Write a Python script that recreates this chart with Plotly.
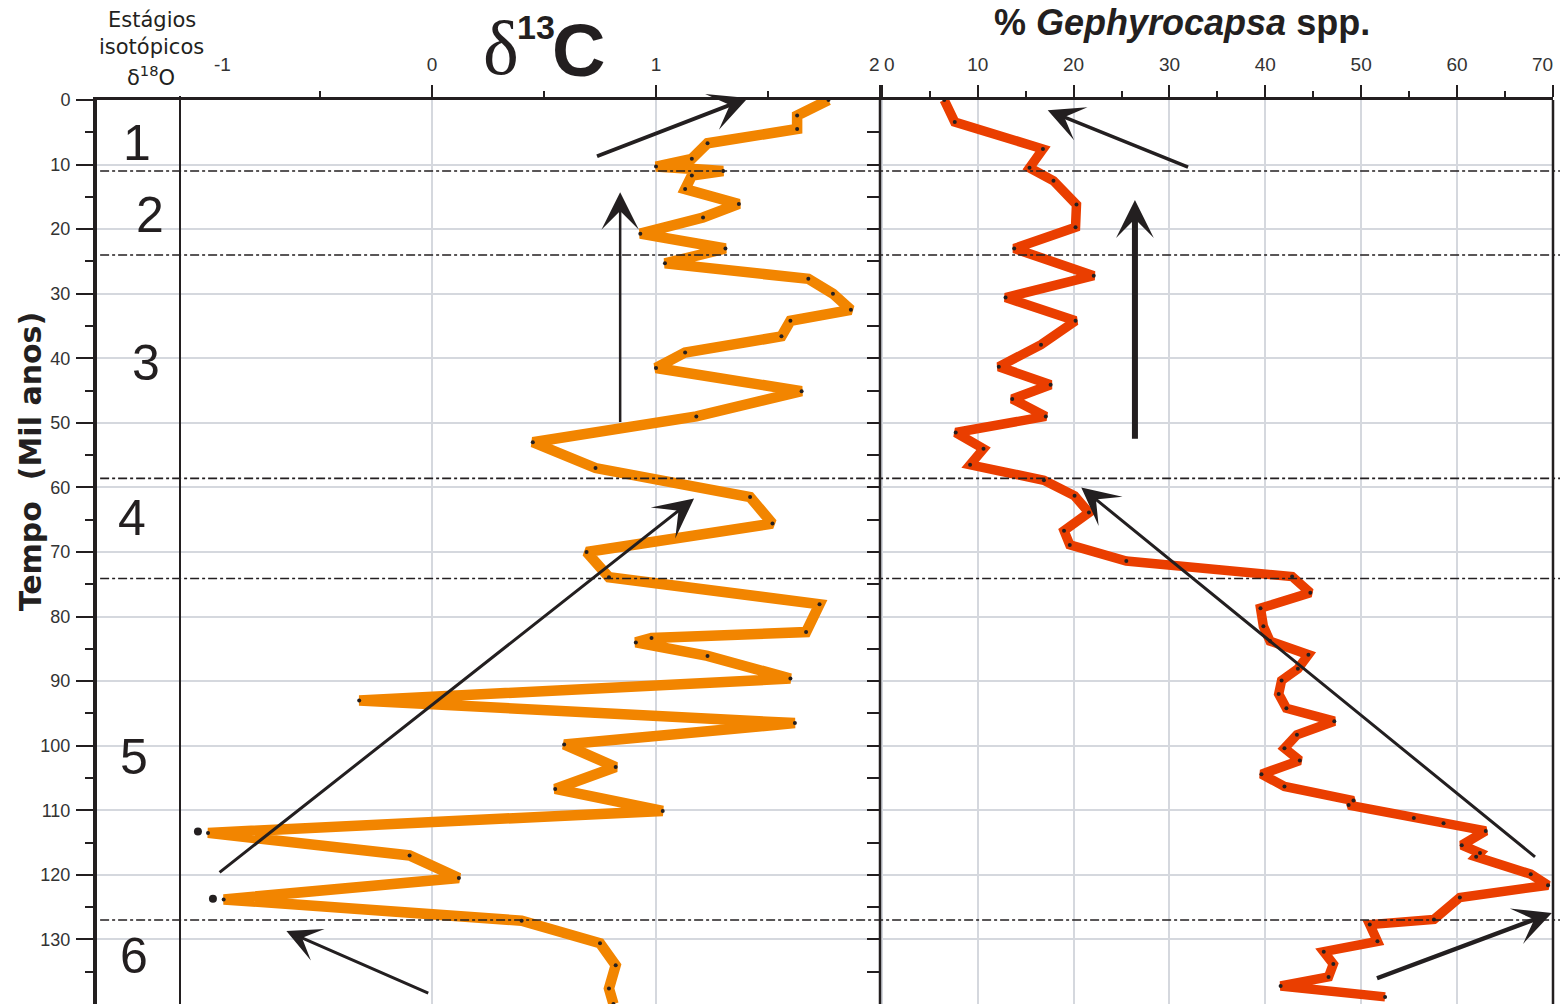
import plotly.graph_objects as go

# ---------------- data ----------------
AGE_D13C = [0, 2.4, 4.5, 6.7, 9.1, 10.3, 11.0, 11.7, 13.8, 16.1, 18.2, 20.7, 23.0, 25.3, 27.7,
            30.0, 32.5, 34.2, 36.6, 39.1, 41.5, 45.1, 49.0, 53.0, 57.0, 61.5, 65.6, 70.0, 73.9,
            78.1, 82.4, 83.3, 84.0, 86.1, 89.6, 93.0, 96.5, 99.8, 103.3, 106.7, 110.1, 113.5,
            117.0, 120.5, 123.8, 127.1, 130.6, 134.0, 137.6, 140.0]
D13C = [1.77, 1.63, 1.63, 1.23, 1.16, 1.00, 1.30, 1.16, 1.13, 1.37, 1.21, 0.93, 1.31, 1.04, 1.68,
        1.79, 1.87, 1.60, 1.56, 1.13, 1.00, 1.65, 1.18, 0.45, 0.73, 1.42, 1.52, 0.69, 0.79,
        1.73, 1.67, 0.98, 0.91, 1.23, 1.60, -0.325, 1.62, 0.59, 0.82, 0.55, 1.03, -1.0,
        -0.10, 0.12, -0.93, 0.40, 0.75, 0.82, 0.79, 0.81]

# isolated dots beside the d13C curve
AGE_D13C_DOTS = [113.3, 123.7]
D13C_DOTS = [-1.045, -0.978]

AGE_GEPH = [0, 3.4, 7.6, 10.5, 12.5, 16.2, 19.7, 23.0, 27.2, 30.6, 34.2, 37.9, 41.3, 44.1, 46.3,
            49.0, 51.5, 54.0, 56.5, 58.9, 61.3, 63.9, 66.7, 68.9, 71.4, 73.8, 76.3, 78.7, 81.5,
            83.8, 85.9, 88.1, 89.9, 92.0, 94.2, 96.2, 98.3, 100.4, 102.3, 104.4, 106.3, 108.5,
            109.2, 111.2, 112.0, 113.2, 115.4, 116.6, 117.2, 119.9, 121.6, 123.5, 126.9, 127.7,
            130.3, 131.9, 133.8, 135.8, 137.2, 138.9]
GEPH = [6.5, 7.6, 16.8, 15.4, 17.9, 20.3, 20.2, 13.8, 22.1, 12.9, 20.2, 16.6, 12.2, 17.6, 13.6,
        17.1, 7.7, 10.6, 9.2, 16.9, 20.1, 21.6, 19.0, 19.6, 25.5, 42.8, 44.7, 39.5, 39.8,
        40.5, 44.5, 43.4, 41.7, 41.4, 42.2, 47.2, 43.3, 42.0, 43.6, 39.6, 42.0, 49.2,
        48.7, 55.5, 58.6, 63.0, 60.5, 62.4, 62.0, 67.7, 69.5, 60.3, 57.6, 50.9,
        51.7, 46.1, 47.1, 46.6, 41.6, 52.5]

STAGE_BOUNDARIES = [11.0, 24.0, 58.6, 74.1, 127.0]
STAGE_LABELS = ["1", "2", "3", "4", "5", "6"]
STAGE_LABEL_AGES = [6.7, 17.8, 40.8, 64.8, 101.7, 132.6]
STAGE_LABEL_POS = [0.48, 0.64, 0.59, 0.42, 0.45, 0.45]

AGE_TICKS = list(range(0, 131, 10))
D13C_TICKS = [0, 1, 2]
D13C_TICKTEXT = ["0", "1", ""]
GEPH_TICKS = list(range(0, 71, 10))
GEPH_TICKTEXT = [""] + [str(v) for v in range(10, 61, 10)] + [""]

# trend arrows: (panel, tail value, tail age, head value, head age, width, head size)
TREND_ARROWS = [
    ("d13c", 0.73, 8.8, 1.41, -0.3, 4, 1.6),
    ("d13c", 0.84, 50.1, 0.84, 14.3, 2.5, 2.5),
    ("d13c", -0.955, 119.8, 1.17, 61.7, 3, 2.2),
    ("d13c", -0.01, 138.4, -0.65, 128.7, 3, 1.9),
    ("geph", 32.1, 10.5, 17.3, 1.6, 3.5, 1.7),
    ("geph", 26.4, 52.7, 26.4, 15.5, 6, 1.05),
    ("geph", 68.3, 117.4, 20.8, 60.0, 3, 2.1),
    ("geph", 51.5, 136.1, 69.9, 125.9, 4.5, 1.4),
]

# ---------------- layout constants ----------------
W, H = 1560, 1004
TOP, BOT = 100, 0
PH = H - TOP - BOT
X_AX = 97 / W
X_COL = 180 / W
X_MID = 880 / W
X_END = 1553 / W
INK = "#231f20"
GRID = "#d5d8de"
FONT = "Liberation Sans, Arial, sans-serif"
ORANGE = "#f28500"
RED = "#ea3e00"


def py(pix):
    return (H - BOT - pix) / PH


fig = go.Figure()

fig.add_trace(go.Scatter(x=D13C, y=AGE_D13C, xaxis="x2", yaxis="y2", mode="lines+markers",
                         line=dict(color=ORANGE, width=10.5), marker=dict(color=INK, size=4),
                         showlegend=False, hoverinfo="skip"))
fig.add_trace(go.Scatter(x=D13C_DOTS, y=AGE_D13C_DOTS, xaxis="x2", yaxis="y2", mode="markers",
                         marker=dict(color=INK, size=8), showlegend=False, hoverinfo="skip",
                         cliponaxis=False))
fig.add_trace(go.Scatter(x=GEPH, y=AGE_GEPH, xaxis="x3", yaxis="y3", mode="lines+markers",
                         line=dict(color=RED, width=9.5), marker=dict(color=INK, size=4),
                         showlegend=False, hoverinfo="skip"))
# invisible trace to instantiate isotope column subplot
fig.add_trace(go.Scatter(x=[0.5], y=[0], xaxis="x", yaxis="y", mode="markers",
                         marker=dict(opacity=0), showlegend=False, hoverinfo="skip"))

yr = [140, 0]
fig.update_layout(
    width=W, height=H, margin=dict(l=0, r=0, t=TOP, b=BOT, autoexpand=False),
    paper_bgcolor="white", plot_bgcolor="white",
    font=dict(family=FONT, color=INK),
    xaxis=dict(domain=[X_AX, X_COL], range=[0, 1], side="top", anchor="y", automargin=False,
               showline=True, linecolor=INK, linewidth=2.5, showticklabels=False,
               ticks="", showgrid=False, zeroline=False),
    xaxis2=dict(domain=[X_COL, X_MID], range=[-1.125, 2.0], side="top", anchor="y2",
                automargin=False, showline=True, linecolor=INK, linewidth=2.5,
                tickvals=D13C_TICKS, ticktext=D13C_TICKTEXT, ticks="outside", ticklen=12,
                tickwidth=2, tickcolor=INK, ticklabelstandoff=7,
                tickfont=dict(size=19, color="#333"),
                minor=dict(tickvals=[-0.5, 0.5, 1.5], ticks="outside", ticklen=6, tickwidth=2,
                           tickcolor=INK, showgrid=False),
                showgrid=True, gridcolor=GRID, gridwidth=2, zeroline=False),
    xaxis3=dict(domain=[X_MID, X_END], range=[-0.2, 70.02], side="top", anchor="y3",
                automargin=False, showline=True, linecolor=INK, linewidth=2.5,
                tickvals=GEPH_TICKS, ticktext=GEPH_TICKTEXT, ticks="outside", ticklen=12,
                tickwidth=2, tickcolor=INK, ticklabelstandoff=7,
                tickfont=dict(size=19, color="#333"),
                minor=dict(tick0=5, dtick=10, ticks="outside", ticklen=6, tickwidth=2,
                           tickcolor=INK, showgrid=False),
                showgrid=True, gridcolor=GRID, gridwidth=2, zeroline=False),
    yaxis=dict(domain=[0, 1], range=yr, anchor="x", automargin=False, showline=True,
               linecolor=INK, linewidth=4,
               tickvals=AGE_TICKS, ticks="outside", ticklen=17, tickwidth=2, tickcolor=INK,
               tickfont=dict(size=18, color="#333"), ticklabelstandoff=2,
               minor=dict(tick0=5, dtick=10, ticks="outside", ticklen=8, tickwidth=2,
                          tickcolor=INK, showgrid=False),
               showgrid=True, gridcolor=GRID, gridwidth=2, zeroline=False),
    yaxis2=dict(domain=[0, 1], range=yr, anchor="x2", matches="y", side="right",
                automargin=False, showticklabels=False, tickvals=AGE_TICKS, ticks="inside",
                ticklen=13, tickwidth=2, tickcolor=INK,
                minor=dict(tick0=5, dtick=10, ticks="inside", ticklen=13, tickwidth=2,
                           tickcolor=INK, showgrid=False),
                showgrid=True, gridcolor=GRID, gridwidth=2, zeroline=False),
    yaxis3=dict(domain=[0, 1], range=yr, anchor="x3", matches="y", showticklabels=False,
                automargin=False, tickvals=AGE_TICKS, ticks="", showgrid=True, gridcolor=GRID,
                gridwidth=2, zeroline=False),
)

shapes = []
for b in STAGE_BOUNDARIES:
    shapes.append(dict(type="line", xref="paper", yref="y", x0=X_AX + 0.002, x1=1.0, y0=b, y1=b,
                       line=dict(color=INK, width=1.6, dash="dashdot")))
shapes.append(dict(type="line", xref="paper", yref="paper", x0=X_COL, x1=X_COL, y0=0,
                   y1=1 + 4 / PH, line=dict(color=INK, width=2)))
shapes.append(dict(type="line", xref="paper", yref="paper", x0=X_MID, x1=X_MID, y0=0,
                   y1=1, line=dict(color=INK, width=2.5)))
shapes.append(dict(type="line", xref="paper", yref="paper", x0=X_END, x1=X_END, y0=0,
                   y1=1, line=dict(color=INK, width=2.5)))
fig.update_layout(shapes=shapes)

ann = []


def text_at(txt, xpix, ypix, font, **kw):
    ann.append(dict(text=txt, x=xpix / W, y=py(ypix), xref="paper", yref="paper",
                    xanchor="center", yanchor="middle", showarrow=False, font=font, **kw))


for lab, age, pos in zip(STAGE_LABELS, STAGE_LABEL_AGES, STAGE_LABEL_POS):
    ann.append(dict(text=lab, x=pos, y=age, xref="x", yref="y", showarrow=False,
                    xanchor="center", yanchor="middle",
                    font=dict(size=50, color=INK, family=FONT)))

ann.append(dict(text="<b>Tempo  (Mil anos)</b>", x=30 / W, y=56.1, xref="paper", yref="y",
                xanchor="center", yanchor="middle", textangle=-90, showarrow=False,
                font=dict(size=30, color=INK, family="DejaVu Sans, Liberation Sans, sans-serif")))

hdr_font = dict(size=21, color=INK, family="DejaVu Sans, Liberation Sans, sans-serif")
text_at("Estágios", 152, 20, hdr_font)
text_at("isotópicos", 151, 47, hdr_font)
text_at("δ<sup>18</sup>O", 151, 76, hdr_font)

tick_font = dict(size=19, color="#333", family=FONT)
text_at("-1", 222, 64, tick_font)
text_at("2", 874, 64, tick_font)
text_at("0", 889, 64, tick_font)
text_at("70", 1542, 64, tick_font)

# title delta13C
text_at("δ", 501, 48, dict(size=76, color=INK, family="Liberation Serif, Times New Roman, serif"))
text_at("<b>13</b>", 536, 27, dict(size=34, color=INK, family=FONT))
text_at("<b>C</b>", 578, 50, dict(size=74, color=INK, family=FONT))
text_at("<b>% <i>Gephyrocapsa</i> spp.</b>", 1182, 23, dict(size=36, color=INK, family=FONT))

for panel, tv, ta, hv, ha, wdt, hs in TREND_ARROWS:
    xr, yrf = ("x2", "y2") if panel == "d13c" else ("x3", "y3")
    ann.append(dict(text="", x=hv, y=ha, ax=tv, ay=ta, xref=xr, yref=yrf, axref=xr, ayref=yrf,
                    showarrow=True, arrowhead=3, arrowsize=hs, arrowwidth=wdt,
                    arrowcolor=INK, standoff=0))

fig.update_layout(annotations=ann)

fig.write_html("out.html")
